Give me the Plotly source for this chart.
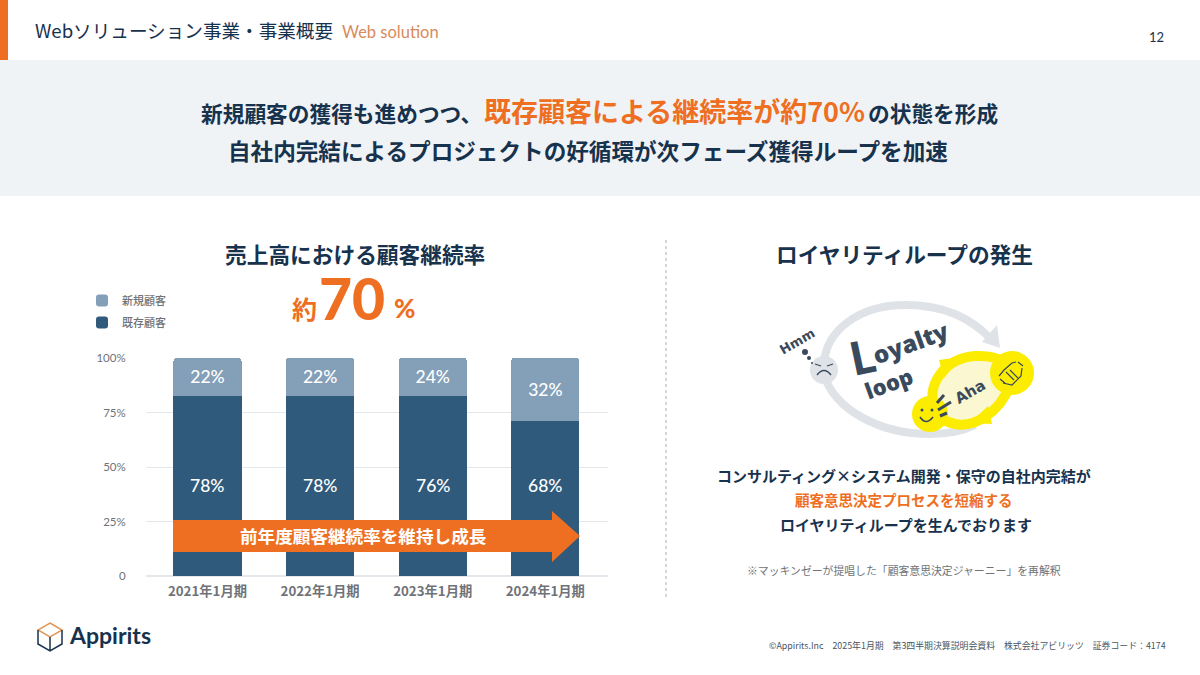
import plotly.graph_objects as go

W, H = 1200, 675
JP = "Noto Sans CJK JP"

NAVY = "#17324d"
ORANGE = "#ee6f22"
GRAY_TXT = "#6f7378"
LOOP_GRAY = "#dfe3e8"
YELLOW = "#fbec00"
SLATE = "#3a4a5c"

# chart data (drawn heights differ from the printed labels in the source slide)
periods = ["2021年1月期", "2022年1月期", "2023年1月期", "2024年1月期"]
existing_heights = [82.6, 82.6, 82.6, 71.2]
new_heights = [17.4, 17.4, 17.4, 28.8]
existing_labels = ["78%", "78%", "76%", "68%"]
new_labels = ["22%", "22%", "24%", "32%"]
y_ticks = [0, 25, 50, 75, 100]
y_tick_labels = ["0", "25%", "50%", "75%", "100%"]


def px(x):
    return x / W


def py(y):
    return 1 - y / H


def path(d):
    # d is a list of commands using slide pixels
    out = []
    for item in d:
        if isinstance(item, str):
            out.append(item)
        else:
            out.append(f"{px(item[0]):.5f},{py(item[1]):.5f}")
    return " ".join(out)


shapes = []
annotations = []


def rect(x0, y0, x1, y1, color, layer="below"):
    shapes.append(dict(type="rect", xref="paper", yref="paper", x0=px(x0), x1=px(x1),
                       y0=py(y1), y1=py(y0), fillcolor=color, line_width=0, layer=layer))


def circle(cx, cy, r, color, layer="above"):
    shapes.append(dict(type="circle", xref="paper", yref="paper", x0=px(cx - r), x1=px(cx + r),
                       y0=py(cy + r), y1=py(cy - r), fillcolor=color, line_width=0, layer=layer))


def curve(d, color=None, width=0, fill=None, layer="above"):
    s = dict(type="path", xref="paper", yref="paper", path=path(d), layer=layer)
    s["line"] = dict(color=color, width=width) if color else dict(width=0)
    if fill:
        s["fillcolor"] = fill
    shapes.append(s)


def label(x, y, text, size, color=NAVY, anchor="center", bold=False, family=JP, angle=0, weight=None):
    annotations.append(dict(xref="paper", yref="paper", x=px(x), y=py(y), text=text, showarrow=False,
                            xanchor=anchor, yanchor="middle", textangle=angle,
                            font=dict(family=family, size=size, color=color,
                                      weight=weight or (700 if bold else 400))))


fig = go.Figure()
fig.add_trace(go.Bar(x=periods, y=existing_heights, name="既存顧客", marker_color="#2f5a7c", marker_line_width=0,
                     legendgroup="a", legendrank=2, hoverinfo="skip"))
fig.add_trace(go.Bar(x=periods, y=new_heights, name="新規顧客", marker_color="#84a0b8", marker_line_width=0,
                     legendgroup="b", legendrank=1, text=new_labels, textposition="inside",
                     insidetextanchor="middle", textangle=0,
                     textfont=dict(family="Lato", size=17.5, color="white", weight=500), hoverinfo="skip"))

# header and bands
rect(0, 0, 8, 60, ORANGE)
rect(0, 60, W, 196, "#f0f3f6")
label(33, 30, "Webソリューション事業・事業概要", 18.6, anchor="left")
label(340, 32, "Web solution", 16.5, color="#d98a5a", anchor="left", family="Lato")
label(1156, 37, "12", 13, family="Lato")

label(484, 112, "新規顧客の獲得も進めつつ、", 21.7, anchor="right", bold=True)
label(482, 110, "既存顧客による継続率が約70%", 27, color=ORANGE, anchor="left", bold=True)
label(866, 112, "の状態を形成", 21.7, anchor="left", bold=True)
label(587.5, 150, "自社内完結によるプロジェクトの好循環が次フェーズ獲得ループを加速", 22.6, bold=True)

# left column
label(354.5, 253, "売上高における顧客継続率", 21.7, bold=True)
label(304, 308, "約", 25, color=ORANGE, bold=True)
label(352, 298, "70", 57, color=ORANGE, family="Lato", weight=900)
label(405, 308, "%", 26, color=ORANGE, family="Lato", weight=900)

# growth arrow over the bars
curve(["M", (173, 520), "L", (552, 520), "L", (552, 511), "L", (580, 536), "L", (552, 562),
       "L", (552, 552), "L", (173, 552), "Z"], fill=ORANGE)
label(363.5, 535.5, "前年度顧客継続率を維持し成長", 17.6, color="white", bold=True)

for period, text in zip(periods, existing_labels):
    annotations.append(dict(xref="x", yref="y", x=period, y=41.7, text=text, showarrow=False,
                            font=dict(family="Lato", size=17.5, color="white", weight=500)))

# divider
shapes.append(dict(type="line", xref="paper", yref="paper", x0=px(666), x1=px(666), y0=py(240), y1=py(600),
                   line=dict(color="#c8ccd0", width=1.5, dash="dot")))

# right column
label(904, 253, "ロイヤリティループの発生", 21.7, bold=True)
label(904, 475, "コンサルティング×システム開発・保守の自社内完結が", 15, bold=True)
label(904, 499, "顧客意思決定プロセスを短縮する", 14.5, color=ORANGE, bold=True)
label(906, 524, "ロイヤリティループを生んでおります", 15, bold=True)
label(904, 570, "※マッキンゼーが提唱した「顧客意思決定ジャーニー」を再解釈", 10.85, color=GRAY_TXT)

# loyalty loop illustration
curve(["M", (824, 365), "C", (825, 330), (860, 305), (905, 305), "C", (945, 305), (970, 318), (990, 338)],
      color=LOOP_GRAY, width=8)
curve(["M", (982, 342), "L", (997, 325), "L", (1000, 348), "Z"], fill=LOOP_GRAY)
curve(["M", (824, 375), "C", (835, 410), (880, 434), (930, 434), "C", (950, 434), (965, 430), (975, 425)],
      color=LOOP_GRAY, width=8)
circle(824, 370, 14, LOOP_GRAY)
curve(["M", (815, 364), "L", (821, 366)], color=SLATE, width=1.2)
curve(["M", (827, 366), "L", (833, 364)], color=SLATE, width=1.2)
curve(["M", (817, 375), "Q", (824, 366), (831, 375)], color=SLATE, width=1.5)
circle(805, 352, 3, SLATE)
circle(809, 358, 2, SLATE)
circle(812, 363, 1, SLATE)
label(797, 341, "Hmm", 13, color=SLATE, bold=True, family="DejaVu Sans", angle=-30)
label(862, 356, "L", 46, color=SLATE, family="Lato", weight=900, angle=-12)
label(910, 342, "oyalty", 24, color=SLATE, family="Open Sans", weight=800, angle=-20)
label(888, 383, "loop", 22, color=SLATE, family="Open Sans", weight=800, angle=-20)

curve(["M", (935, 410), "C", (925, 385), (945, 358), (975, 356), "C", (1000, 355), (1020, 365), (1010, 385),
       "C", (1000, 412), (975, 428), (955, 424), "C", (945, 422), (938, 417), (935, 410), "Z"],
      color=YELLOW, width=10, fill="#fbf7d0")
circle(1012, 373, 22, YELLOW)
circle(930, 414, 18, YELLOW)
curve(["M", (939, 360), "L", (961, 357), "L", (944, 378), "Z"], fill=YELLOW)
curve(["M", (970, 423), "L", (988, 406), "L", (992, 424), "Z"], fill=YELLOW)
circle(922, 410, 1.5, SLATE)
circle(932, 410, 1.5, SLATE)
curve(["M", (920, 417), "Q", (926, 426), (933, 417)], color=SLATE, width=1.6)
curve(["M", (937, 403), "L", (944, 395)], color=SLATE, width=3)
curve(["M", (938, 410), "L", (951, 402)], color=SLATE, width=3)
curve(["M", (940, 416), "L", (947, 413)], color=SLATE, width=3)
label(970, 392, "Aha", 15, color=SLATE, bold=True, family="DejaVu Sans", angle=-30)
# handshake glyph
curve(["M", (999, 376), "L", (1004, 370), "L", (1012, 363), "L", (1016, 362), "M", (1003, 383), "L", (1012, 385),
       "L", (1021, 376), "L", (1022, 368), "M", (1006, 372), "L", (1014, 380), "M", (1010, 370), "L", (1018, 378),
       "M", (1000, 379), "L", (1006, 384), "M", (1018, 362), "L", (1023, 366)], color=SLATE, width=1.2)

# footer
curve(["M", (50, 623), "L", (62, 630), "L", (50, 637), "L", (38, 630), "Z"], color="#e0975a", width=1.5)
curve(["M", (38, 630), "L", (38, 644), "L", (50, 651), "L", (62, 644), "L", (62, 630), "M", (50, 637), "L", (50, 651)],
      color=NAVY, width=1.5)
label(67, 635, "Appirits", 23, bold=True, anchor="left", family="Lato")
label(1168, 645, "©Appirits.Inc　2025年1月期　第3四半期決算説明会資料　株式会社アビリッツ　証券コード：4174",
      8.9, color="#4a5560", anchor="right")

fig.update_layout(
    width=W, height=H, margin=dict(l=0, r=0, t=0, b=0, pad=0, autoexpand=False),
    paper_bgcolor="white", plot_bgcolor="white",
    barmode="stack", bargap=0.396, barcornerradius=3,
    font=dict(family=JP),
    shapes=shapes, annotations=annotations,
    legend=dict(x=px(82), y=py(286), xanchor="left", yanchor="top", tracegroupgap=3,
                bgcolor="rgba(0,0,0,0)", font=dict(family=JP, size=11, color=GRAY_TXT, weight=500)),
    xaxis=dict(domain=[px(146), px(607.5)], range=[-0.546, 3.552], ticks="outside", ticklen=3,
               tickcolor="rgba(0,0,0,0)", showline=False, automargin=False,
               tickfont=dict(family=JP, size=13.3, color=GRAY_TXT, weight=700)),
    yaxis=dict(domain=[py(576), py(358)], range=[0, 100], tickvals=y_ticks, ticktext=y_tick_labels,
               ticks="outside", ticklen=17, tickcolor="rgba(0,0,0,0)", gridcolor="#e3e6ea", gridwidth=1,
               zeroline=True, zerolinecolor="#e3e6ea", showline=False, automargin=False,
               tickfont=dict(family="Lato", size=11.5, color=GRAY_TXT)),
)

# the page body has a default margin, drop it so the slide fills the window
fig.write_html("out.html", config={"displayModeBar": False},
               post_script="document.body.style.margin='0';")
